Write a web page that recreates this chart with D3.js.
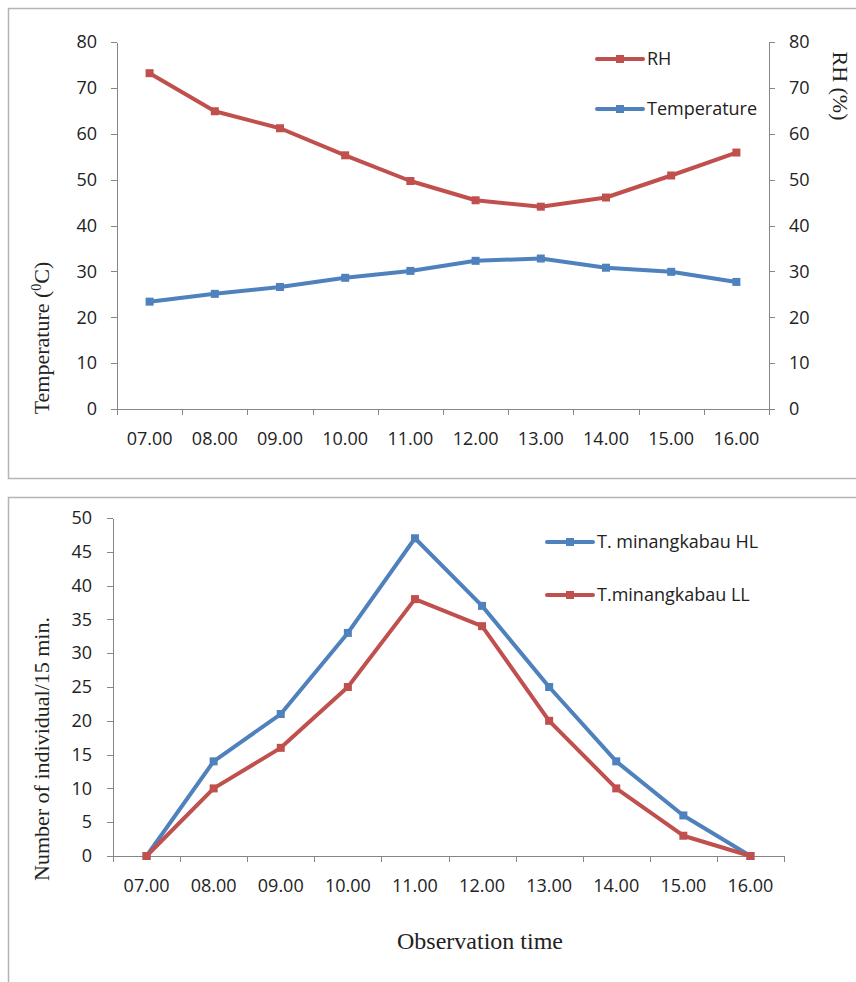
<!DOCTYPE html>
<html>
<head>
<meta charset="utf-8">
<title>RH, temperature and T. minangkabau activity</title>
<style>
  body { margin: 0; background: #fff; }
  .frame { fill: none; stroke: #b4b4b4; stroke-width: 1.5px; }
  .axis path, .axis line { stroke: #868686; stroke-width: 1px; shape-rendering: crispEdges; }
  .axis text { font-family: "Open Sans", sans-serif; font-size: 18px; fill: #222; }
  .legend text { font-family: "Open Sans", sans-serif; font-size: 18px; fill: #222; }
  .title { font-family: "Liberation Serif", "Times New Roman", serif; font-size: 22px; fill: #222; }
  .series { fill: none; stroke-width: 4px; stroke-linejoin: round; }
</style>
</head>
<body>
<script src="https://cdn.jsdelivr.net/npm/d3@7/dist/d3.min.js"></script>
<script>
// observation hours (shared by both panels)
var hours = ["07.00", "08.00", "09.00", "10.00", "11.00", "12.00", "13.00", "14.00", "15.00", "16.00"];

// top panel
var rhValues   = [73.2, 64.9, 61.2, 55.3, 49.7, 45.5, 44.1, 46.1, 50.9, 55.9];
var tempValues = [23.4, 25.1, 26.6, 28.6, 30.1, 32.3, 32.8, 30.8, 29.9, 27.7];
var topTicks = [0, 10, 20, 30, 40, 50, 60, 70, 80];

// bottom panel
var hlValues = [0, 14, 21, 33, 47, 37, 25, 14, 6, 0];
var llValues = [0, 10, 16, 25, 38, 34, 20, 10, 3, 0];
var bottomTicks = [0, 5, 10, 15, 20, 25, 30, 35, 40, 45, 50];

var red = "#c0504d",
    blue = "#4f81bd";

var width = 856,
    height = 982;

var svg = d3.select("body").append("svg")
    .attr("width", width)
    .attr("height", height);

// chart frames (both run off the right / bottom edge)
svg.append("rect").attr("class", "frame")
    .attr("x", 8.5).attr("y", 8.5).attr("width", 900).attr("height", 470);
svg.append("rect").attr("class", "frame")
    .attr("x", 8.5).attr("y", 497.5).attr("width", 900).attr("height", 600);

// draws x axis with ticks between categories and labels centred in them
function drawXAxis(g, x, y0) {
  var edges = d3.scaleLinear().domain([0, hours.length]).range(x.range());
  g.append("g")
      .attr("class", "axis")
      .attr("transform", "translate(0," + y0 + ")")
      .call(d3.axisBottom(edges).ticks(hours.length).tickSize(6).tickSizeOuter(0).tickFormat(""));
  g.append("g")
      .attr("class", "axis")
      .selectAll("text")
      .data(hours)
      .enter().append("text")
      .attr("x", function(d) { return x(d) + x.bandwidth() / 2; })
      .attr("y", y0 + 36)
      .attr("text-anchor", "middle")
      .text(function(d) { return d; });
}

function drawSeries(g, x, y, values, color) {
  var line = d3.line()
      .x(function(d, i) { return x(hours[i]) + x.bandwidth() / 2; })
      .y(function(d) { return y(d); });
  g.append("path")
      .attr("class", "series")
      .attr("d", line(values))
      .style("stroke", color);
  g.selectAll(null)
      .data(values)
      .enter().append("rect")
      .attr("x", function(d, i) { return x(hours[i]) + x.bandwidth() / 2 - 4; })
      .attr("y", function(d) { return y(d) - 4; })
      .attr("width", 8)
      .attr("height", 8)
      .style("fill", color);
}

function legendItem(g, x0, y0, color, label) {
  var item = g.append("g").attr("class", "legend");
  item.append("line")
      .attr("x1", x0).attr("x2", x0 + 46)
      .attr("y1", y0).attr("y2", y0)
      .style("stroke", color).style("stroke-width", 4).style("stroke-linecap", "round");
  item.append("rect")
      .attr("x", x0 + 19).attr("y", y0 - 4)
      .attr("width", 8).attr("height", 8)
      .style("fill", color);
  item.append("text")
      .attr("x", x0 + 50).attr("y", y0)
      .attr("dy", "0.35em")
      .text(label);
}

// ---------- top panel: RH and temperature ----------
var topPanel = svg.append("g");

var x1 = d3.scaleBand().domain(hours).range([117, 769]);
var yT = d3.scaleLinear().domain([0, 80]).range([409, 42]);
var yRH = d3.scaleLinear().domain([0, 80]).range([409, 42]);

topPanel.append("g")
    .attr("class", "axis")
    .attr("transform", "translate(117,0)")
    .call(d3.axisLeft(yT).tickValues(topTicks).tickSize(6).tickSizeOuter(0).tickPadding(14));

topPanel.append("g")
    .attr("class", "axis")
    .attr("transform", "translate(769,0)")
    .call(d3.axisRight(yRH).tickValues(topTicks).tickSize(6).tickSizeOuter(0).tickPadding(14));

drawXAxis(topPanel, x1, 409);

drawSeries(topPanel, x1, yRH, rhValues, red);
drawSeries(topPanel, x1, yT, tempValues, blue);

legendItem(topPanel, 597, 59, red, "RH");
legendItem(topPanel, 597, 109, blue, "Temperature");

var tTitle = topPanel.append("text")
    .attr("class", "title")
    .attr("transform", "translate(49,338) rotate(-90)")
    .attr("text-anchor", "middle");
tTitle.append("tspan").text("Temperature (");
tTitle.append("tspan").attr("font-size", "14px").attr("dy", "-8").text("0");
tTitle.append("tspan").attr("dy", "8").text("C)");

topPanel.append("text")
    .attr("class", "title")
    .attr("transform", "translate(833,86) rotate(90)")
    .attr("text-anchor", "middle")
    .text("RH (%)");

// ---------- bottom panel: individuals per 15 min ----------
var bottomPanel = svg.append("g");

var x2 = d3.scaleBand().domain(hours).range([113, 784]);
var yN = d3.scaleLinear().domain([0, 50]).range([856, 518]);

bottomPanel.append("g")
    .attr("class", "axis")
    .attr("transform", "translate(113,0)")
    .call(d3.axisLeft(yN).tickValues(bottomTicks).tickSize(6).tickSizeOuter(0).tickPadding(15));

drawXAxis(bottomPanel, x2, 856);

drawSeries(bottomPanel, x2, yN, hlValues, blue);
drawSeries(bottomPanel, x2, yN, llValues, red);

legendItem(bottomPanel, 547, 542, blue, "T. minangkabau HL");
legendItem(bottomPanel, 547, 595, red, "T.minangkabau LL");

bottomPanel.append("text")
    .attr("class", "title")
    .attr("transform", "translate(49,749) rotate(-90)")
    .attr("text-anchor", "middle")
    .text("Number of individual/15 min.");

bottomPanel.append("text")
    .attr("class", "title")
    .attr("x", 480)
    .attr("y", 949)
    .attr("text-anchor", "middle")
    .style("font-size", "24px")
    .text("Observation time");
</script>
</body>
</html>
